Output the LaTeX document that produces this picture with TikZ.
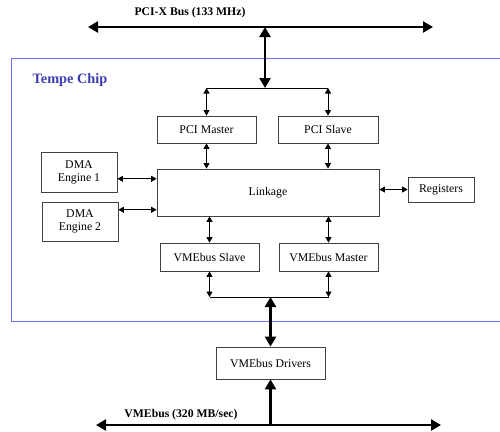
\documentclass[tikz,border=0pt]{standalone}
\usepackage{fontspec}
\setmainfont{Liberation Serif}
\usetikzlibrary{arrows.meta}
\definecolor{chipline}{RGB}{110,110,240}
\definecolor{chiptext}{RGB}{60,60,175}

\begin{document}
\begin{tikzpicture}[x=1pt,y=-1pt,
  box/.style={draw=black!75,line width=0.8pt,inner sep=0pt,align=center,
    font=\fontsize{11.8}{13}\selectfont},
  link/.style={line width=0.8pt,>={Triangle[length=5.5pt,width=6pt]}},
  fat/.style={line width=2.6pt,>={Triangle[length=10pt,width=11pt]}},
  buslabel/.style={font=\bfseries\fontsize{11.7}{13}\selectfont}]
  \useasboundingbox (0,0) rectangle (500,431);

  % Chip outline
  \draw[chipline,line width=1pt] (510,58) -- (11,58) -- (11,321) -- (510,321);
  \node[text=chiptext,font=\bfseries\fontsize{14.3}{16}\selectfont] (chip) at (70,80) {Tempe Chip};

  % Blocks
  \node[box,minimum width=99,minimum height=27] (pcim) at (206.5,129.5) {PCI Master};
  \node[box,minimum width=100,minimum height=27] (pcis) at (328,129.5) {PCI Slave};
  \node[box,minimum width=222,minimum height=47] (linkage) at (268,192.5) {Linkage};
  \node[box,minimum width=76,minimum height=40] (dma1) at (79,172) {DMA\\Engine 1};
  \node[box,minimum width=76,minimum height=39] (dma2) at (80,221.5) {DMA\\Engine 2};
  \node[box,minimum width=66,minimum height=25] (regs) at (441,189.5) {Registers};
  \node[box,minimum width=99,minimum height=28] (vmes) at (209.5,257) {VMEbus Slave};
  \node[box,minimum width=99,minimum height=28] (vmem) at (328.5,257) {VMEbus Master};
  \node[box,minimum width=109,minimum height=32] (drv) at (270.5,363) {VMEbus Drivers};

  % PCI-X side
  \coordinate (pcil) at (88,27);
  \coordinate (pcir) at (433,27);
  \coordinate (pcitap) at (265,27);
  \coordinate (pcihub) at (265,88);
  \draw[fat,<->] (pcil) -- (pcir);
  \node[buslabel] (pcilabel) at (190,13) {PCI-X Bus (133 MHz)};
  \draw[fat,<->] (pcitap) -- (pcihub);
  \draw[line width=0.8pt] (pcim.north |- pcihub) -- (pcis.north |- pcihub);
  \foreach \n in {pcim,pcis} {
    \draw[link,<->] (\n.north |- pcihub) -- (\n.north);
    \draw[link,<->] (\n.south) -- (\n.south |- linkage.north);
  }

  % Side blocks
  \draw[link,<->] (dma1.-10) -- (dma1.-10 -| linkage.west);
  \draw[link,<->] (dma2.17) -- (dma2.17 -| linkage.west);
  \draw[link,<->] (linkage.east |- regs.west) -- (regs.west);

  % VMEbus side
  \coordinate (vmehub) at (270.5,297);
  \foreach \n in {vmes,vmem} {
    \draw[link,<->] (\n.north |- linkage.south) -- (\n.north);
    \draw[link,<->] (\n.south) -- (\n.south |- vmehub);
  }
  \draw[line width=0.8pt] (vmes.south |- vmehub) -- (vmem.south |- vmehub);
  \draw[fat,<->] (vmehub) -- (drv.north);

  \coordinate (vmel) at (96,425);
  \coordinate (vmer) at (441,425);
  \draw[fat,<-] (drv.south) -- (drv.south |- vmel);
  \draw[fat,<->] (vmel) -- (vmer);
  \node[buslabel] (vmelabel) at (181,415) {VMEbus (320 MB/sec)};
\end{tikzpicture}
\end{document}
